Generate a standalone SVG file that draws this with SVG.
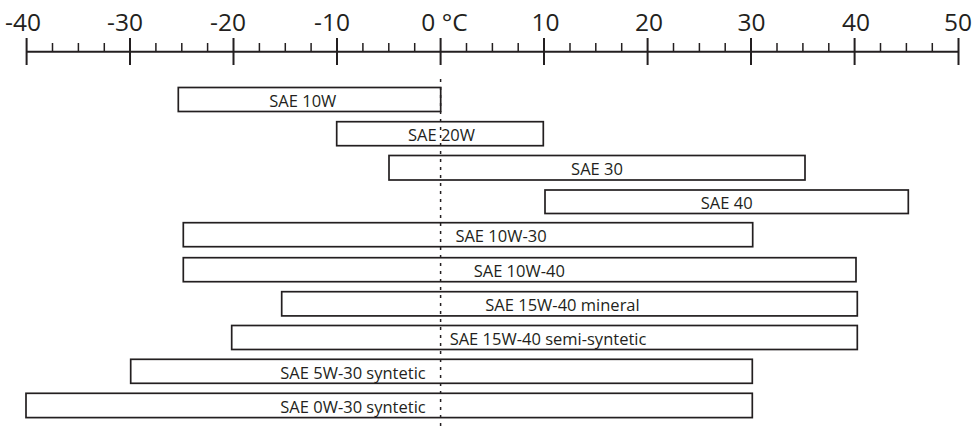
<svg xmlns="http://www.w3.org/2000/svg" width="980" height="428" viewBox="0 0 980 428">
<style>
.ax{stroke:#231f20;stroke-width:2;fill:none}
.mn{stroke:#231f20;stroke-width:1.5}
.lbl{font-family:"Open Sans","Noto Sans",sans-serif;font-size:24.5px;fill:#231f20;text-anchor:middle}
.bar{fill:#fff;stroke:#231f20;stroke-width:1.7}
.bt{font-family:"Open Sans","Noto Sans",sans-serif;font-size:16.5px;fill:#231f20;text-anchor:middle}
.zero{stroke:#231f20;stroke-width:1.5;stroke-dasharray:3 5}
</style>
<rect width="980" height="428" fill="#fff"/>
<g id="axis">
<line class="ax" x1="26.6" y1="51.7" x2="958.5" y2="51.7"/>
<path class="ax" d="M26.6 38V65M130 38V65M233.5 38V65M337 38V65M440.6 38V65M544 38V65M647.6 38V65M751 38V65M854.6 38V65M958.5 38V65"/>
<path class="mn" d="M52.5 43V52M78.4 43V52M104.3 43V52M155.9 43V52M181.8 43V52M207.6 43V52M259.4 43V52M285.3 43V52M311.1 43V52M362.9 43V52M388.8 43V52M414.7 43V52M466.5 43V52M492.4 43V52M518.2 43V52M570 43V52M595.8 43V52M621.7 43V52M673.5 43V52M699.4 43V52M725.2 43V52M777 43V52M802.9 43V52M828.8 43V52M880.5 43V52M906.4 43V52M932.3 43V52"/>
<text class="lbl" x="23" y="30.5">-40</text>
<text class="lbl" x="125" y="30.5">-30</text>
<text class="lbl" x="228" y="30.5">-20</text>
<text class="lbl" x="332" y="30.5">-10</text>
<text class="lbl" x="444.5" y="30.5">0 °C</text>
<text class="lbl" x="545.5" y="30.5">10</text>
<text class="lbl" x="649" y="30.5">20</text>
<text class="lbl" x="751.5" y="30.5">30</text>
<text class="lbl" x="856" y="30.5">40</text>
<text class="lbl" x="958" y="30.5">50</text>
</g>
<g id="bar-10w"><rect class="bar" x="178.3" y="87.5" width="262.4" height="24"/><text class="bt" x="302.8" y="106.5">SAE 10W</text></g>
<g id="bar-20w"><rect class="bar" x="336.7" y="121.7" width="206.6" height="24"/><text class="bt" x="441.5" y="140.7">SAE 20W</text></g>
<g id="bar-30"><rect class="bar" x="389" y="155.5" width="416" height="24.5"/><text class="bt" x="597" y="174.7">SAE 30</text></g>
<g id="bar-40"><rect class="bar" x="545" y="190" width="363.3" height="23.5"/><text class="bt" x="726.7" y="208.7">SAE 40</text></g>
<g id="bar-10w30"><rect class="bar" x="183.3" y="222.7" width="569.4" height="24"/><text class="bt" x="501" y="242.3">SAE 10W-30</text></g>
<g id="bar-10w40"><rect class="bar" x="183.3" y="257.7" width="672.7" height="24"/><text class="bt" x="519.3" y="277">SAE 10W-40</text></g>
<g id="bar-15w40m"><rect class="bar" x="281.7" y="291.7" width="575.6" height="24.2"/><text class="bt" x="562.5" y="311">SAE 15W-40 mineral</text></g>
<g id="bar-15w40s"><rect class="bar" x="231.7" y="325.5" width="625.6" height="24"/><text class="bt" x="548" y="344.7">SAE 15W-40 semi-syntetic</text></g>
<g id="bar-5w30"><rect class="bar" x="130.7" y="359.3" width="621.6" height="24"/><text class="bt" x="353" y="378.6">SAE 5W-30 syntetic</text></g>
<g id="bar-0w30"><rect class="bar" x="26" y="393.3" width="726.3" height="24.3"/><text class="bt" x="353" y="412.7">SAE 0W-30 syntetic</text></g>
<g id="connectors"><line class="zero" x1="440.6" y1="79" x2="440.6" y2="428"/></g>
</svg>
